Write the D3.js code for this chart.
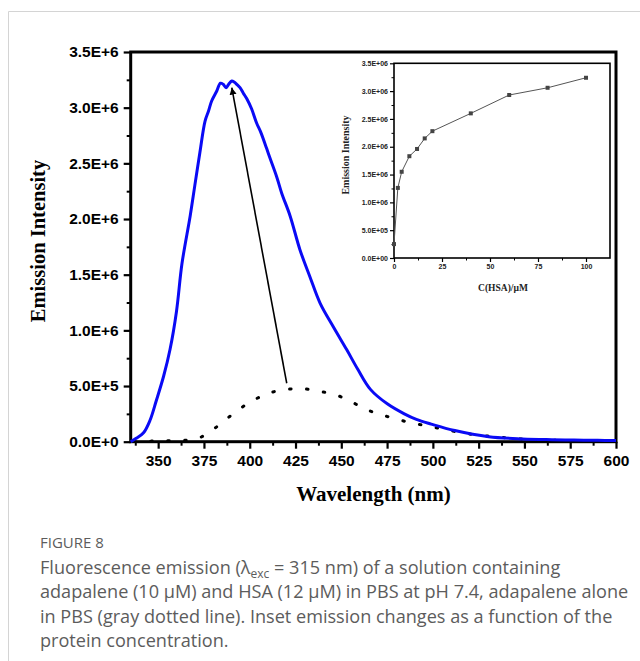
<!DOCTYPE html>
<meta charset="utf-8">
<style>
  body { margin: 0; background: #fff; }
  svg { display: block; }
</style>
<svg width="640" height="661"></svg>
<script src="https://cdn.jsdelivr.net/npm/d3@7"></script>
<script>

// adapalene + HSA, blue curve (intensity in units of 1E+6)
var hsaWavelength = [335, 338, 342, 345.5, 349, 353, 356.5, 360, 363, 367.5, 370, 372.8, 375.6, 377.5, 379.2,
  382, 384, 385.5, 387.1, 388.5, 390.2, 391.5, 392.9, 394.7, 396.5, 398.4, 401, 403.8, 406, 409.3,
  411, 414.7, 417.5, 422, 427.5, 432.9, 438.4, 445.7, 453, 459, 465.9, 475.1, 484.4, 491, 499.1,
  512, 530.5, 549, 565, 577, 590, 600];
var hsaIntensity = [0, 0.03, 0.08, 0.19, 0.37, 0.59, 0.83, 1.17, 1.6, 2.03, 2.3, 2.6, 2.88, 2.97, 3.06,
  3.15, 3.22, 3.21, 3.18, 3.21, 3.24, 3.23, 3.21, 3.18, 3.13, 3.08, 2.99, 2.86, 2.78, 2.63,
  2.55, 2.38, 2.23, 2.03, 1.72, 1.48, 1.245, 1.03, 0.825, 0.65, 0.47, 0.34, 0.25, 0.2, 0.158,
  0.1, 0.045, 0.025, 0.018, 0.015, 0.012, 0.01];

// adapalene alone, dotted curve
var aloneWavelength = [335, 345.9, 355.2, 364.4, 373.2, 381, 388, 394.3, 401.8, 410, 418.8, 428.2, 437.3,
  446.1, 454.8, 461.7, 469.2, 477.4, 487.2, 496.4, 505.6, 514.8, 524.1, 533.3, 542.5, 551.8,
  561.5, 570.8, 580.4, 589.6, 598.8];
var aloneIntensity = [0, 0.005, 0.008, 0.012, 0.04, 0.122, 0.213, 0.292, 0.371, 0.432, 0.468, 0.477, 0.453,
  0.426, 0.365, 0.304, 0.255, 0.216, 0.173, 0.143, 0.113, 0.083, 0.061, 0.046, 0.031, 0.022,
  0.016, 0.012, 0.01, 0.008, 0.006];

// arrow, [wavelength, intensity]
var arrowFrom = [420.2, 0.525];
var arrowTo = [390.2, 3.18];

// inset
var insetConc = [0, 2, 4, 8, 12, 16, 20, 40, 60, 80, 100];
var insetIntensity = [0.25, 1.26, 1.55, 1.83, 1.96, 2.15, 2.28, 2.6, 2.93, 3.06, 3.24];

var mainXTicks = [350, 375, 400, 425, 450, 475, 500, 525, 550, 575, 600];
var mainXMinor = [337.5, 362.5, 387.5, 412.5, 437.5, 462.5, 487.5, 512.5, 537.5, 562.5, 587.5];
var mainYTicks = [0, 0.5, 1, 1.5, 2, 2.5, 3, 3.5];
var mainYMinor = [0.25, 0.75, 1.25, 1.75, 2.25, 2.75, 3.25];
var insetXTicks = [0, 25, 50, 75, 100];
var insetXMinor = [12.5, 37.5, 62.5, 87.5];
var insetYTicks = [0, 0.5, 1, 1.5, 2, 2.5, 3, 3.5];
var insetYMinor = [0.25, 0.75, 1.25, 1.75, 2.25, 2.75, 3.25];

function sci(v, two) {
  v = v * 1e6;
  if (v === 0) return two ? "0.0E+00" : "0.0E+0";
  var e = Math.floor(Math.log10(v) + 1e-9);
  var m = v / Math.pow(10, e);
  return m.toFixed(1) + "E+" + (two && e < 10 ? "0" + e : e);
}

var svg = d3.select("svg");

// page frame lines
svg.append("line").attr("x1", 8.5).attr("x2", 640).attr("y1", 11.5).attr("y2", 11.5)
  .attr("stroke", "#d4d4d4").attr("stroke-width", 1);
svg.append("line").attr("x1", 8.5).attr("x2", 8.5).attr("y1", 11.5).attr("y2", 661)
  .attr("stroke", "#d4d4d4").attr("stroke-width", 1);

// ---------- main plot ----------
var x = d3.scaleLinear().domain([335, 600]).range([130.7, 616]);
var y = d3.scaleLinear().domain([0, 3.5]).range([441.7, 52]);

var main = svg.append("g");

function styleAxis(g, w) {
  g.select(".domain").remove();
  g.selectAll(".tick line").attr("stroke", "#000").attr("stroke-width", w);
}

main.append("g")
  .attr("transform", "translate(0,441.7)")
  .call(d3.axisBottom(x).tickValues(mainXMinor).tickSize(4).tickFormat(""))
  .call(styleAxis, 2);
main.append("g")
  .attr("transform", "translate(0,441.7)")
  .call(d3.axisBottom(x).tickValues(mainXTicks).tickSize(7).tickPadding(6).tickFormat(d3.format("d")))
  .call(styleAxis, 2.2)
  .selectAll("text")
    .attr("font-family", "Liberation Sans, Arial, sans-serif")
    .attr("font-weight", "bold").attr("font-size", 15.5).attr("fill", "#000");

main.append("g")
  .attr("transform", "translate(130.7,0)")
  .call(d3.axisLeft(y).tickValues(mainYMinor).tickSize(4).tickFormat(""))
  .call(styleAxis, 2);
main.append("g")
  .attr("transform", "translate(130.7,0)")
  .call(d3.axisLeft(y).tickValues(mainYTicks).tickSize(7).tickPadding(5).tickFormat(d => sci(d, false)))
  .call(styleAxis, 2.2)
  .selectAll("text")
    .attr("font-family", "Liberation Sans, Arial, sans-serif")
    .attr("font-weight", "bold").attr("font-size", 15.5).attr("fill", "#000");

main.append("rect")
  .attr("x", x(335)).attr("y", y(3.5))
  .attr("width", x(600) - x(335)).attr("height", y(0) - y(3.5))
  .attr("fill", "none").attr("stroke", "#000").attr("stroke-width", 3);

main.append("text")
  .attr("transform", "translate(44.5,241) rotate(-90)")
  .attr("text-anchor", "middle")
  .attr("font-family", "Liberation Serif, Times New Roman, serif")
  .attr("font-weight", "bold").attr("font-size", 20.5)
  .text("Emission Intensity");

main.append("text")
  .attr("x", 373.5).attr("y", 501)
  .attr("text-anchor", "middle")
  .attr("font-family", "Liberation Serif, Times New Roman, serif")
  .attr("font-weight", "bold").attr("font-size", 21)
  .text("Wavelength (nm)");

// ---------- inset ----------
var ix = d3.scaleLinear().domain([0, 112.5]).range([394, 610]);
var iy = d3.scaleLinear().domain([0, 3.5]).range([258, 63.3]);

var inset = svg.append("g");

inset.append("g")
  .attr("transform", "translate(0,258)")
  .call(d3.axisBottom(ix).tickValues(insetXMinor).tickSize(2.5).tickFormat(""))
  .call(styleAxis, 1);
inset.append("g")
  .attr("transform", "translate(0,258)")
  .call(d3.axisBottom(ix).tickValues(insetXTicks).tickSize(4).tickPadding(2).tickFormat(d3.format("d")))
  .call(styleAxis, 1.2)
  .selectAll("text")
    .attr("font-family", "Liberation Sans, Arial, sans-serif")
    .attr("font-weight", "bold").attr("font-size", 7).attr("fill", "#222");

inset.append("g")
  .attr("transform", "translate(394,0)")
  .call(d3.axisLeft(iy).tickValues(insetYMinor).tickSize(2.5).tickFormat(""))
  .call(styleAxis, 1);
inset.append("g")
  .attr("transform", "translate(394,0)")
  .call(d3.axisLeft(iy).tickValues(insetYTicks).tickSize(4).tickPadding(2).tickFormat(d => sci(d, true)))
  .call(styleAxis, 1.2)
  .selectAll("text")
    .attr("font-family", "Liberation Sans, Arial, sans-serif")
    .attr("font-weight", "bold").attr("font-size", 7).attr("fill", "#222");

inset.append("rect")
  .attr("x", ix(0)).attr("y", iy(3.5))
  .attr("width", ix(112.5) - ix(0)).attr("height", iy(0) - iy(3.5))
  .attr("fill", "none").attr("stroke", "#000").attr("stroke-width", 1.6);

var insetData = insetConc.map((c, i) => [c, insetIntensity[i]]);
inset.append("path")
  .datum(insetData)
  .attr("d", d3.line().x(d => ix(d[0])).y(d => iy(d[1])))
  .attr("fill", "none").attr("stroke", "#555").attr("stroke-width", 1);
inset.selectAll(".pt")
  .data(insetData)
  .enter().append("rect")
    .attr("x", d => ix(d[0]) - 2).attr("y", d => iy(d[1]) - 2)
    .attr("width", 4).attr("height", 4)
    .attr("fill", "#444");

inset.append("text")
  .attr("transform", "translate(349,155) rotate(-90)")
  .attr("text-anchor", "middle")
  .attr("font-family", "Liberation Serif, Times New Roman, serif")
  .attr("font-weight", "bold").attr("font-size", 10)
  .attr("fill", "#222")
  .text("Emission Intensity");

inset.append("text")
  .attr("x", 503).attr("y", 291)
  .attr("text-anchor", "middle")
  .attr("font-family", "Liberation Serif, Times New Roman, serif")
  .attr("font-weight", "bold").attr("font-size", 9.5)
  .attr("fill", "#222")
  .text("C(HSA)/\u00b5M");

// ---------- curves ----------
main.append("path")
  .datum(aloneWavelength.map((w, i) => [w, aloneIntensity[i]]))
  .attr("d", d3.line().x(d => x(d[0])).y(d => y(d[1])).curve(d3.curveMonotoneX))
  .attr("fill", "none").attr("stroke", "#000")
  .attr("stroke-width", 3).attr("stroke-linecap", "round")
  .attr("stroke-dasharray", "1.5 15.5").attr("stroke-dashoffset", -3);

main.append("path")
  .datum(hsaWavelength.map((w, i) => [w, hsaIntensity[i]]))
  .attr("d", d3.line().x(d => x(d[0])).y(d => y(d[1])).curve(d3.curveCatmullRom.alpha(0.5)))
  .attr("fill", "none").attr("stroke", "#0a0af5")
  .attr("stroke-width", 3).attr("stroke-linejoin", "round");

// arrow
svg.append("defs").append("marker")
  .attr("id", "head")
  .attr("viewBox", "0 0 10 10")
  .attr("refX", 10).attr("refY", 5)
  .attr("markerWidth", 7).attr("markerHeight", 8)
  .attr("markerUnits", "userSpaceOnUse")
  .attr("orient", "auto")
  .append("path").attr("d", "M0,0 L10,5 L0,10 z").attr("fill", "#000");

main.append("line")
  .attr("x1", x(arrowFrom[0])).attr("y1", y(arrowFrom[1]))
  .attr("x2", x(arrowTo[0])).attr("y2", y(arrowTo[1]))
  .attr("stroke", "#000").attr("stroke-width", 1.6)
  .attr("marker-end", "url(#head)");

// ---------- caption ----------
var cap = svg.append("g")
  .attr("font-family", "Open Sans, Noto Sans, sans-serif")
  .attr("fill", "#5c5c5c");

cap.append("text")
  .attr("x", 40).attr("y", 548)
  .attr("font-size", 15)
  .text("FIGURE 8");

var capLines = [
  "Fluorescence emission (\u03bb",
  "adapalene (10 \u00b5M) and HSA (12 \u00b5M) in PBS at pH 7.4, adapalene alone",
  "in PBS (gray dotted line). Inset emission changes as a function of the",
  "protein concentration."
];
var capText = cap.selectAll(".cl")
  .data(capLines)
  .enter().append("text")
    .attr("x", 40)
    .attr("y", (d, i) => 574 + i * 24.3)
    .attr("font-size", 18.1)
    .text(d => d);

var first = d3.select(capText.nodes()[0]);
first.append("tspan").attr("font-size", 12).attr("dy", 4).text("exc");
first.append("tspan").attr("dy", -4).text(" = 315 nm) of a solution containing");

</script>
